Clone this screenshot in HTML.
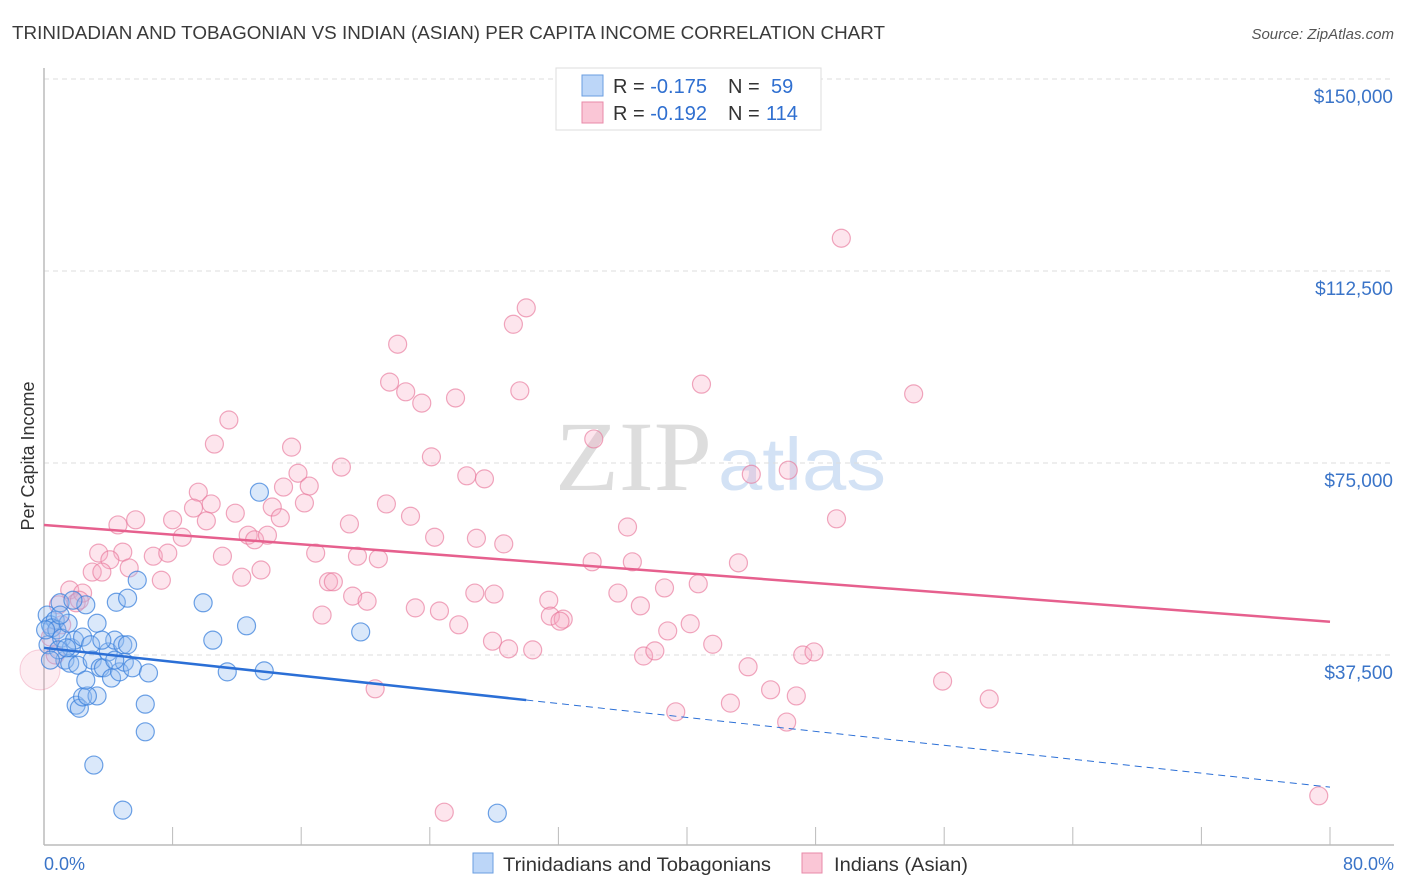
<!DOCTYPE html>
<html><head><meta charset="utf-8"><style>
body{margin:0;background:#fff;font-family:"Liberation Sans",sans-serif;}
#wrap{position:relative;width:1406px;height:892px;overflow:hidden;}
</style></head><body>
<div id="wrap">
<svg id="chart" width="1406" height="892" xmlns="http://www.w3.org/2000/svg">
<text x="12" y="39" font-size="18" fill="#3a3a3a" textLength="873" lengthAdjust="spacingAndGlyphs">TRINIDADIAN AND TOBAGONIAN VS INDIAN (ASIAN) PER CAPITA INCOME CORRELATION CHART</text>
<text x="1394" y="39" font-size="15" fill="#555" font-style="italic" text-anchor="end">Source: ZipAtlas.com</text>
<text x="712" y="490" font-size="100" fill="#ddd" text-anchor="end" font-family="Liberation Serif, serif" textLength="157" lengthAdjust="spacingAndGlyphs">ZIP</text>
<text x="718" y="490" font-size="74" fill="#d3e2f5" textLength="168" lengthAdjust="spacingAndGlyphs">atlas</text>
<text transform="translate(34,456) rotate(-90)" font-size="18" fill="#333" text-anchor="middle">Per Capita Income</text>
<g id="grid"></g><g id="axes"></g><g id="pink"></g><g id="blue"></g><g id="trends"></g>
<text x="44" y="870" font-size="18" fill="#3a74c8">0.0%</text>
<text x="1394" y="870" font-size="18" fill="#3a74c8" text-anchor="end">80.0%</text>
<g><rect x="473" y="853" width="20" height="20" fill="#bcd6f8" stroke="#6a9ee0"/><text x="503" y="871" font-size="19" fill="#333" textLength="268" lengthAdjust="spacingAndGlyphs">Trinidadians and Tobagonians</text></g>
<g><rect x="802" y="853" width="20" height="20" fill="#fac6d6" stroke="#e88aa8"/><text x="834" y="871" font-size="19" fill="#333" textLength="134" lengthAdjust="spacingAndGlyphs">Indians (Asian)</text></g>
<g>
<rect x="556" y="68" width="265" height="62" fill="#fff" stroke="#ddd"/>
<rect x="582" y="75" width="21" height="21" fill="#bcd6f8" stroke="#6a9ee0"/>
<rect x="582" y="102" width="21" height="21" fill="#fac6d6" stroke="#e88aa8"/>
<text x="613" y="93" font-size="20" fill="#333">R = <tspan fill="#2f6fd0">-0.175</tspan><tspan x="728">N = </tspan><tspan x="771" fill="#2f6fd0">59</tspan></text>
<text x="613" y="120" font-size="20" fill="#333">R = <tspan fill="#2f6fd0">-0.192</tspan><tspan x="728">N = </tspan><tspan x="766" fill="#2f6fd0">114</tspan></text>
</g>
</svg>
</div>
<script>
const yTicks=[37500,75000,112500,150000];
const yTickLabels=["$37,500","$75,000","$112,500","$150,000"];
const blueX=[0.2,0.4,0.7,1.0,0.25,0.5,0.8,1.1,1.5,1.3,1.6,1.7,2.1,1.9,2.4,2.6,2.9,3.0,3.3,3.5,3.7,4.0,4.2,4.4,4.5,4.7,4.9,5.0,5.2,5.2,5.5,5.8,6.5,6.3,6.3,2.0,2.2,2.4,3.3,3.1,4.9,9.9,10.5,11.4,12.6,13.7,13.4,19.7,28.2,2.7,0.9,1.4,0.4,1.8,4.4,3.6,2.6,1.0,0.1];
const blueY=[45.3,43.4,44.3,47.7,39.5,42.8,42.4,40.8,43.7,36.5,35.9,38.9,35.5,40.4,41.0,47.3,39.5,36.5,43.7,35.0,35.0,38.1,33.0,40.4,47.8,34.2,39.5,36.1,48.6,39.5,35.0,52.1,34.0,27.9,22.5,27.7,27.1,29.3,29.5,16.0,7.2,47.7,40.4,34.2,43.2,34.4,69.3,42.0,6.6,29.5,38.5,38.9,36.5,48.2,36.5,40.4,32.6,45.3,42.4];
const pinkX=[49.6,30.0,29.2,22.0,40.9,21.5,22.5,23.5,25.6,29.6,54.1,11.5,10.6,15.4,34.2,24.1,18.5,26.3,27.4,46.3,44.0,15.8,14.9,16.5,9.6,10.4,9.3,21.3,16.2,14.2,22.8,11.9,14.7,5.7,4.6,8.0,10.1,36.3,49.3,19.0,8.6,12.7,13.1,13.9,24.3,26.9,3.4,4.9,6.8,7.7,16.9,19.5,20.8,28.6,34.1,36.6,43.2,13.5,11.1,4.1,5.3,3.0,7.3,12.3,17.7,18.0,38.6,40.7,31.4,26.8,28.0,35.7,19.2,20.1,23.1,24.6,37.1,17.3,31.5,32.3,32.1,25.8,38.8,40.2,41.6,27.9,28.9,30.4,37.3,38.0,47.2,47.9,43.8,55.9,45.2,46.8,58.8,20.6,42.7,39.3,46.2,24.9,79.3,1.6,2.0,2.4,0.9,1.1,0.4,0.7,3.6,2.2];
const pinkY=[118.9,105.3,102.1,98.2,90.4,90.8,88.9,86.7,87.7,89.1,88.5,83.4,78.7,78.1,79.7,76.2,74.2,72.5,71.9,73.6,72.8,73.0,70.3,70.5,69.3,67.0,66.2,67.0,67.2,66.4,64.6,65.2,64.3,63.9,62.9,63.9,63.7,62.5,64.1,63.1,60.5,60.9,60.0,60.9,60.5,60.3,57.4,57.6,56.8,57.4,57.4,56.8,56.3,59.2,55.7,55.7,55.5,54.1,56.8,56.1,54.5,53.7,52.1,52.7,51.8,51.8,50.6,51.4,48.2,49.6,49.4,49.6,49.0,48.0,46.7,46.1,47.1,45.3,45.1,44.5,44.1,43.4,42.2,43.6,39.6,40.2,38.7,38.5,37.3,38.3,37.5,38.1,35.2,32.4,30.7,29.5,28.9,30.9,28.1,26.4,24.4,6.8,10.0,50.2,47.7,49.6,47.3,43.4,41.0,37.5,53.7,48.2];
const blueTrend=[38.9,11.7];
const pinkTrend=[62.9,44.0];
const blueSolidEnd=30;
const NS="http://www.w3.org/2000/svg";
const sx=v=>44+v/80*1286;
const sy=k=>847-k*1000/37500*192;
function mk(tag,attrs,parent){const e=document.createElementNS(NS,tag);for(const k in attrs)e.setAttribute(k,attrs[k]);document.getElementById(parent).appendChild(e);return e;}
yTicks.forEach((t,i)=>{
 const y=sy(t/1000);
 const l=mk('line',{x1:44,x2:1394,y1:y,y2:y,stroke:'#ddd','stroke-dasharray':'5,4'},'grid');
 
 
 const tx=mk('text',{x:1393,y:y+24,'font-size':19,fill:'#3a74c8','text-anchor':'end'},'grid');
 tx.textContent=yTickLabels[i];
 
 
});
const ax=mk('line',{x1:44,x2:44,y1:68,y2:845,stroke:'#bbb','stroke-width':1.5},'axes');


const bx=mk('line',{x1:44,x2:1394,y1:845,y2:845,stroke:'#bbb','stroke-width':1.5},'axes');


for(let p=8;p<=80;p+=8){const t=mk('line',{x1:sx(p),x2:sx(p),y1:827,y2:845,stroke:'#bbb'},'axes');
 
 }
const big=mk('circle',{cx:sx(0)-4,cy:sy(34.6),r:20,fill:'rgba(245,150,175,0.18)',stroke:'rgba(232,120,155,0.35)'},'pink');


pinkX.forEach((x,i)=>{const c=mk('circle',{cx:sx(x),cy:sy(pinkY[i]),r:9,fill:'rgba(248,170,195,0.3)',stroke:'rgba(232,120,155,0.65)','stroke-width':1.2},'pink');
 
 });
blueX.forEach((x,i)=>{const c=mk('circle',{cx:sx(x),cy:sy(blueY[i]),r:9,fill:'rgba(150,190,240,0.35)',stroke:'rgba(60,130,220,0.75)','stroke-width':1.2},'blue');
 
 });
const by=x=>blueTrend[0]+(blueTrend[1]-blueTrend[0])*x/80;
const l1=mk('line',{x1:sx(0),y1:sy(by(0)),x2:sx(blueSolidEnd),y2:sy(by(blueSolidEnd)),stroke:'#2b6fd6','stroke-width':2.5},'trends');


const l2=mk('line',{x1:sx(blueSolidEnd),y1:sy(by(blueSolidEnd)),x2:sx(80),y2:sy(by(80)),stroke:'#2b6fd6','stroke-width':1,'stroke-dasharray':'7,5'},'trends');


const l3=mk('line',{x1:sx(0),y1:sy(pinkTrend[0]),x2:sx(80),y2:sy(pinkTrend[1]),stroke:'#e6608e','stroke-width':2.5},'trends');


</script>
</body></html>
